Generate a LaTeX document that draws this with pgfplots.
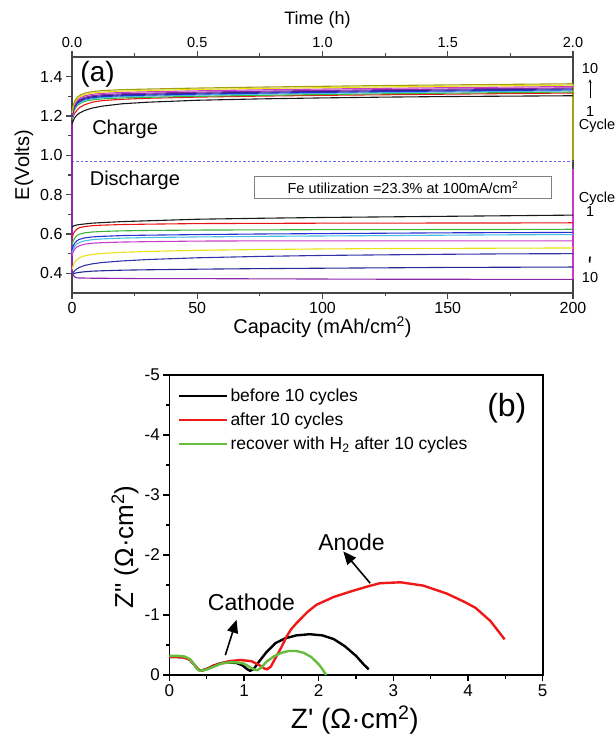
\documentclass[border=0pt]{standalone}
\usepackage{pgfplots}
\pgfplotsset{compat=1.18}
\usepackage{pgfplotstable}
\usepackage{fontspec}
\setmainfont{Liberation Sans}
\usetikzlibrary{arrows.meta}

\newcommand{\fs}[1]{\fontsize{#1}{#1}\selectfont}

\definecolor{axgray}{RGB}{70,70,70}
\definecolor{cblack}{RGB}{25,25,25}
\definecolor{cred}{RGB}{230,20,20}
\definecolor{cgreen}{RGB}{60,180,60}
\definecolor{cblue}{RGB}{40,50,210}
\definecolor{ccyan}{RGB}{70,190,230}
\definecolor{cmagenta}{RGB}{200,60,200}
\definecolor{cyellow}{RGB}{235,225,20}
\definecolor{colive}{RGB}{165,160,20}
\definecolor{cnavy}{RGB}{40,40,150}
\definecolor{cnavyb}{RGB}{50,50,170}
\definecolor{cpurple}{RGB}{140,40,170}
\definecolor{dashblue}{RGB}{100,100,240}
\definecolor{bred}{RGB}{240,25,25}
\definecolor{bgreen}{RGB}{100,190,60}

% charge curves, cycles 1..10
\pgfplotstableread{
x    c1    c2    c3    c4    c5    c6    c7    c8    c9    c10
0    1.160 1.180 1.182 1.188 1.193 1.198 1.203 1.210 1.217 1.224
0.5  1.175 1.198 1.212 1.218 1.223 1.228 1.233 1.240 1.247 1.254
1    1.190 1.212 1.232 1.238 1.243 1.248 1.253 1.260 1.267 1.274
2    1.205 1.230 1.252 1.258 1.263 1.268 1.273 1.280 1.287 1.294
3    1.215 1.243 1.262 1.268 1.273 1.278 1.283 1.290 1.297 1.304
5    1.228 1.257 1.274 1.280 1.285 1.290 1.295 1.302 1.309 1.316
8    1.240 1.270 1.282 1.288 1.293 1.298 1.303 1.310 1.317 1.324
12   1.250 1.278 1.287 1.293 1.298 1.303 1.308 1.315 1.322 1.329
20   1.262 1.285 1.292 1.298 1.303 1.308 1.313 1.320 1.327 1.334
30   1.270 1.290 1.295 1.301 1.306 1.311 1.316 1.323 1.330 1.337
50   1.280 1.296 1.300 1.306 1.311 1.316 1.321 1.328 1.335 1.342
75   1.287 1.301 1.305 1.311 1.316 1.321 1.326 1.333 1.340 1.347
100  1.292 1.305 1.309 1.315 1.320 1.325 1.330 1.337 1.344 1.351
125  1.296 1.308 1.313 1.319 1.324 1.329 1.334 1.341 1.348 1.355
150  1.299 1.311 1.316 1.322 1.327 1.332 1.337 1.344 1.351 1.358
175  1.301 1.314 1.319 1.325 1.330 1.335 1.340 1.347 1.354 1.361
200  1.303 1.317 1.322 1.328 1.333 1.338 1.343 1.350 1.357 1.364
}\chargetab

% discharge curves, cycles 1..10
\pgfplotstableread{
x    d1    d2    d3    d4    d5    d6    d7    d8    d9    d10
0    0.636 0.580 0.545 0.515 0.500 0.490 0.420 0.395 0.395 0.405
0.5  0.640 0.600 0.565 0.538 0.522 0.510 0.440 0.405 0.398 0.392
1    0.643 0.612 0.578 0.552 0.536 0.522 0.455 0.413 0.400 0.382
2    0.646 0.625 0.592 0.566 0.550 0.534 0.470 0.423 0.403 0.377
3    0.648 0.632 0.599 0.573 0.557 0.541 0.479 0.430 0.405 0.376
5    0.651 0.638 0.606 0.580 0.565 0.548 0.489 0.440 0.408 0.376
8    0.655 0.642 0.610 0.585 0.571 0.553 0.496 0.448 0.411 0.375
12   0.658 0.645 0.613 0.588 0.575 0.556 0.501 0.455 0.413 0.375
20   0.663 0.648 0.616 0.592 0.579 0.559 0.507 0.463 0.416 0.374
30   0.667 0.650 0.618 0.594 0.582 0.561 0.511 0.470 0.418 0.373
50   0.675 0.653 0.620 0.597 0.585 0.564 0.517 0.479 0.421 0.373
75   0.680 0.654 0.621 0.600 0.588 0.565 0.521 0.486 0.424 0.372
100  0.684 0.655 0.622 0.602 0.590 0.565 0.524 0.491 0.426 0.371
125  0.687 0.655 0.622 0.604 0.592 0.565 0.526 0.494 0.428 0.370
150  0.690 0.656 0.623 0.606 0.594 0.565 0.527 0.497 0.430 0.370
175  0.693 0.656 0.623 0.607 0.596 0.565 0.528 0.499 0.431 0.369
200  0.696 0.657 0.624 0.608 0.597 0.565 0.529 0.500 0.432 0.369
}\dischargetab

\begin{document}
\begin{tikzpicture}[x=1pt,y=1pt, ann/.style={font=\fs{14.5}, inner sep=0pt}]
\useasboundingbox (0,0) rectangle (616,734);

% ---------- (a) ----------
\begin{axis}[
  at={(72pt,441pt)}, anchor=south west,
  scale only axis, width=501pt, height=236pt,
  xmin=0, xmax=200, ymin=0.3, ymax=1.5,
  xtick={0,50,100,150,200},
  ytick={0.4,0.6,0.8,1.0,1.2,1.4},
  yticklabels={0.4,0.6,0.8,1.0,1.2,1.4},
  minor x tick num=1, minor y tick num=1,
  xtick pos=left, ytick pos=left, tick align=outside,
  major tick length=6pt, minor tick length=3.5pt,
  axis line style={draw=axgray, line width=1.2pt},
  every tick/.style={axgray, line width=1.1pt},
  tick label style={font=\fs{16}},
  /pgf/number format/assume math mode=true,
  xlabel={Capacity (mAh/cm\textsuperscript{2})},
  ylabel={E(Volts)},
  label style={font=\fs{20}},
  xlabel style={at={(axis description cs:0.5,-0.144)}, anchor=center},
  ylabel style={at={(axis description cs:-0.096,0.542)}, anchor=center},
  clip=false,
  curve/.style={line width=1.1pt},
]
\addplot[dashblue, line width=0.8pt, dash pattern=on 2.5pt off 2pt] coordinates {(0,0.97) (200,0.97)};
\addplot[cpurple, curve] coordinates {(0,1.17) (0,0.40)};
\addplot[colive, curve] coordinates {(200,1.364) (200,0.975)};
\addplot[cmagenta, curve] coordinates {(200,0.93) (200,0.37)};

\addplot[cblack, curve]   table[x=x, y=c1]  {\chargetab};
\addplot[cred, curve]     table[x=x, y=c2]  {\chargetab};
\addplot[cgreen, curve]   table[x=x, y=c3]  {\chargetab};
\addplot[ccyan, curve]    table[x=x, y=c4]  {\chargetab};
\addplot[cblue, curve]    table[x=x, y=c5]  {\chargetab};
\addplot[cnavy, curve]    table[x=x, y=c6]  {\chargetab};
\addplot[cpurple, curve]  table[x=x, y=c7]  {\chargetab};
\addplot[cmagenta, curve] table[x=x, y=c8]  {\chargetab};
\addplot[cyellow, curve]  table[x=x, y=c9]  {\chargetab};
\addplot[colive, curve]   table[x=x, y=c10] {\chargetab};

\addplot[cblack, curve]   table[x=x, y=d1]  {\dischargetab};
\addplot[cred, curve]     table[x=x, y=d2]  {\dischargetab};
\addplot[cgreen, curve]   table[x=x, y=d3]  {\dischargetab};
\addplot[cblue, curve]    table[x=x, y=d4]  {\dischargetab};
\addplot[ccyan, curve]    table[x=x, y=d5]  {\dischargetab};
\addplot[cmagenta, curve] table[x=x, y=d6]  {\dischargetab};
\addplot[cyellow, curve]  table[x=x, y=d7]  {\dischargetab};
\addplot[cnavyb, curve]   table[x=x, y=d8]  {\dischargetab};
\addplot[cnavy, curve]    table[x=x, y=d9]  {\dischargetab};
\addplot[cpurple, curve]  table[x=x, y=d10] {\dischargetab};

\node[font=\fs{28}] at (axis cs:10.2,1.41) {(a)};
\node[font=\fs{20}] at (axis cs:21.2,1.13) {Charge};
\node[font=\fs{20}] at (axis cs:25.1,0.874) {Discharge};
\node[draw=gray, line width=0.8pt, fill=white, minimum width=297pt, minimum height=22pt,
      inner sep=0pt, font=\fs{14.5}] at (axis cs:132.1,0.836)
      {Fe utilization =23.3\% at 100mA/cm\textsuperscript{2}};

\node[ann] at (axis cs:206.8,1.440) {10};
\draw[black, line width=0.7pt, -{Stealth[length=4pt,width=3pt]}] (axis cs:206.8,1.290) -- (axis cs:206.8,1.388);
\node[ann] at (axis cs:206.8,1.225) {1};
\node[ann] at (axis cs:209.6,1.150) {Cycle};
\node[ann] at (axis cs:209.6,0.780) {Cycle};
\node[ann] at (axis cs:206.8,0.712) {1};
\draw[black, line width=1.6pt] (axis cs:206.8,0.485) -- (axis cs:206.6,0.455);
\node[ann] at (axis cs:206.8,0.38) {10};
\end{axis}

% top time axis
\begin{axis}[
  at={(72pt,441pt)}, anchor=south west,
  scale only axis, width=501pt, height=236pt,
  xmin=0, xmax=2, ymin=0.3, ymax=1.5,
  axis x line*=top, axis y line=none,
  xtick={0,0.5,1,1.5,2},
  xticklabels={0.0,0.5,1.0,1.5,2.0},
  minor x tick num=1, tick align=outside,
  major tick length=6pt, minor tick length=3.5pt,
  axis line style={draw=axgray, line width=1.2pt},
  every tick/.style={axgray, line width=1.1pt},
  tick label style={font=\fs{14.5}},
  xlabel={Time (h)},
  label style={font=\fs{18}},
  xlabel style={at={(axis description cs:0.49,1.157)}, anchor=center},
]
\end{axis}

% ---------- (b) ----------
\begin{axis}[
  at={(169.3pt,59pt)}, anchor=south west,
  scale only axis, width=373.4pt, height=300pt,
  xmin=0, xmax=5, ymin=-5, ymax=0, y dir=reverse,
  xtick={0,1,2,3,4,5}, ytick={-5,-4,-3,-2,-1,0},
  minor x tick num=1, minor y tick num=1,
  xtick pos=left, ytick pos=left, tick align=outside,
  major tick length=6pt, minor tick length=3.5pt,
  axis line style={black, line width=1.6pt},
  every tick/.style={black, line width=1.3pt},
  tick label style={font=\fs{17}},
  /pgf/number format/assume math mode=true,
  xlabel={Z\textquotesingle\ (Ω·cm\textsuperscript{2})},
  ylabel={Z\textquotedbl\ (Ω·cm\textsuperscript{2})},
  xlabel style={font=\fs{28}, at={(axis description cs:0.497,-0.15)}, anchor=center},
  ylabel style={font=\fs{26}, at={(axis description cs:-0.119,0.427)}, anchor=center},
  clip=false,
  legend style={at={(axis description cs:0.015,0.968)}, anchor=north west,
    draw=none, fill=none, font=\fs{17.5}, row sep=6pt, cells={anchor=west}},
  legend image code/.code={\draw[#1] (0pt,0pt) -- (48pt,0pt);},
  imp/.style={line width=2.4pt, line join=round},
]
\addplot[black, imp] coordinates {
 (0,-0.30) (0.1,-0.30) (0.2,-0.295) (0.27,-0.26) (0.33,-0.18) (0.38,-0.10) (0.42,-0.07)
 (0.5,-0.10) (0.6,-0.16) (0.7,-0.20) (0.8,-0.21) (0.9,-0.20) (0.98,-0.16) (1.04,-0.10)
 (1.08,-0.07) (1.13,-0.10) (1.2,-0.22) (1.3,-0.38) (1.42,-0.53) (1.55,-0.61) (1.7,-0.66)
 (1.88,-0.68) (2.05,-0.66) (2.2,-0.60) (2.35,-0.48) (2.5,-0.32) (2.6,-0.18) (2.67,-0.095)};
\addlegendentry{before 10 cycles}
\addplot[bred, imp] coordinates {
 (0,-0.30) (0.1,-0.30) (0.2,-0.29) (0.28,-0.25) (0.34,-0.16) (0.39,-0.09) (0.43,-0.07)
 (0.52,-0.11) (0.65,-0.18) (0.8,-0.23) (0.95,-0.25) (1.1,-0.23) (1.2,-0.17) (1.27,-0.11)
 (1.31,-0.095) (1.36,-0.14) (1.42,-0.28) (1.5,-0.46) (1.57,-0.64) (1.63,-0.76) (1.7,-0.86)
 (1.85,-1.05) (1.97,-1.17) (2.2,-1.30) (2.45,-1.40) (2.64,-1.47) (2.82,-1.53) (3.1,-1.545)
 (3.4,-1.49) (3.71,-1.36) (3.95,-1.22) (4.1,-1.12) (4.3,-0.90) (4.49,-0.595)};
\addlegendentry{after 10 cycles}
\addplot[bgreen, imp] coordinates {
 (0,-0.32) (0.1,-0.32) (0.2,-0.31) (0.27,-0.27) (0.33,-0.18) (0.37,-0.10) (0.41,-0.07)
 (0.5,-0.09) (0.6,-0.14) (0.7,-0.19) (0.8,-0.21) (0.9,-0.21) (1.0,-0.19) (1.08,-0.13)
 (1.14,-0.09) (1.18,-0.08) (1.23,-0.12) (1.3,-0.22) (1.4,-0.31) (1.5,-0.37) (1.6,-0.40)
 (1.7,-0.40) (1.8,-0.37) (1.9,-0.30) (2.0,-0.18) (2.06,-0.08) (2.1,0)};
\addlegendentry{recover with H\textsubscript{2} after 10 cycles}

\draw[line width=1.6pt, -{Triangle[length=13pt,width=11pt]}] (axis cs:0.75,-0.33) -- (axis cs:0.90,-0.92);
\draw[line width=1.6pt, -{Triangle[length=13pt,width=11pt]}] (axis cs:2.69,-1.53) -- (axis cs:2.33,-2.06);
\node[font=\fs{23}] at (axis cs:1.10,-1.22) {Cathode};
\node[font=\fs{23}] at (axis cs:2.44,-2.22) {Anode};
\node[font=\fs{32}] at (axis cs:4.52,-4.44) {(b)};
\end{axis}
\end{tikzpicture}
\end{document}
